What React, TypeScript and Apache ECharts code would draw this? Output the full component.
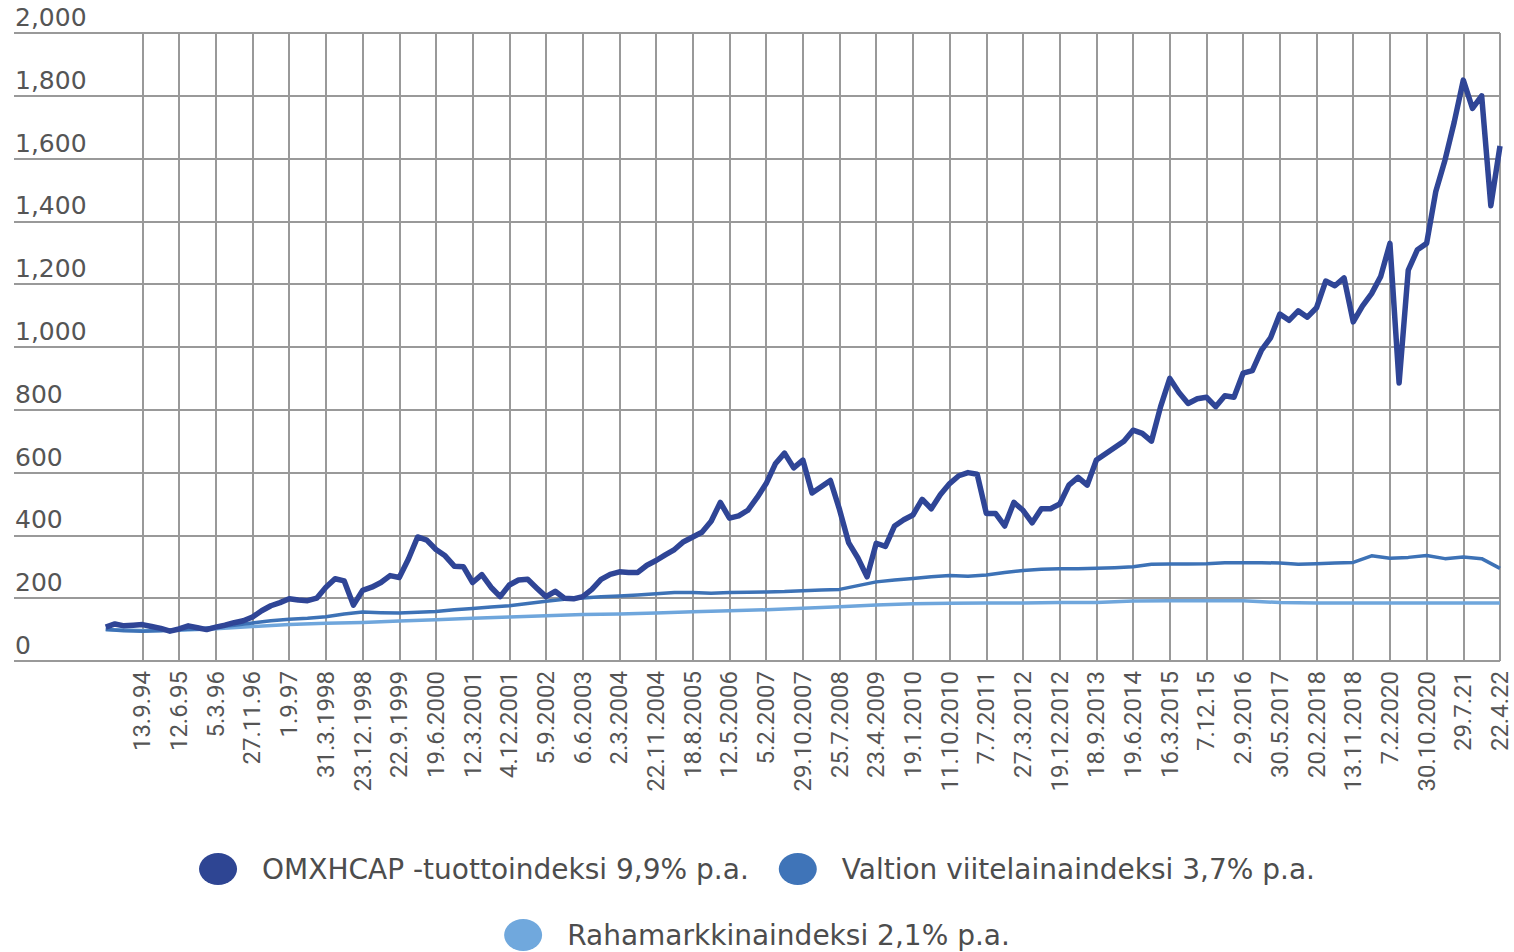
import React, { useEffect, useRef } from "react";
import * as echarts from "echarts";

const tickLabels = [
  "13.9.94", "12.6.95", "5.3.96", "27.11.96", "1.9.97", "31.3.1998", "23.12.1998",
  "22.9.1999", "19.6.2000", "12.3.2001", "4.12.2001", "5.9.2002", "6.6.2003",
  "2.3.2004", "22.11.2004", "18.8.2005", "12.5.2006", "5.2.2007", "29.10.2007",
  "25.7.2008", "23.4.2009", "19.1.2010", "11.10.2010", "7.7.2011", "27.3.2012",
  "19.12.2012", "18.9.2013", "19.6.2014", "16.3.2015", "7.12.15", "2.9.2016",
  "30.5.2017", "20.2.2018", "13.11.2018", "7.2.2020", "30.10.2020", "29.7.21", "22.4.22",
];

const seriesNames = [
  "OMXHCAP -tuottoindeksi 9,9% p.a.",
  "Valtion viitelainaindeksi 3,7% p.a.",
  "Rahamarkkinaindeksi 2,1% p.a.",
];

// OMXHCAP, four readings per tick interval
const omxhcap = [
  108, 118, 112, 114, 116, 110, 104, 95, 102, 112,
  106, 100, 108, 114, 122, 128, 140, 160, 176, 186,
  198, 194, 192, 200, 235, 262, 255, 178, 225, 235,
  250, 272, 266, 325, 395, 385, 355, 335, 302, 300,
  250, 275, 235, 205, 242, 258, 260, 232, 205, 222,
  200, 198, 205, 228, 260, 276, 284, 282, 282, 305,
  320, 338, 355, 380, 395, 410, 445, 505, 455, 462,
  480, 520, 565, 628, 662, 615, 640, 535, 555, 575,
  482, 376, 328, 268, 375, 365, 430, 450, 465, 515,
  485, 530, 565, 590, 600, 595, 470, 470, 430, 505,
  480, 440, 485, 485, 500, 560, 585, 560, 640, 660,
  680, 700, 735, 725, 700, 810, 900, 855, 820, 835,
  840, 810, 845, 840, 917, 925, 990, 1030, 1105, 1085,
  1115, 1095, 1125, 1210, 1195, 1220, 1080, 1130, 1170, 1225,
  1330, 885, 1245, 1310, 1330, 1495, 1595, 1715, 1850, 1760,
  1800, 1450, 1640,
];

// Valtion viitelainaindeksi, two readings per tick interval
const valtion = [
  100, 96, 95, 96, 100, 102, 108, 114, 121, 128,
  133, 136, 141, 150, 156, 154, 153, 155, 158, 163,
  167, 172, 176, 183, 190, 197, 201, 205, 207, 210,
  214, 218, 218, 216, 218, 219, 220, 221, 224, 226,
  228, 240, 252, 258, 263, 268, 272, 270, 274, 282,
  288, 292, 294, 294, 295, 297, 300, 308, 309, 309,
  310, 313, 313, 313, 312, 308, 310, 312, 314, 335,
  327, 330, 336, 326, 331, 326, 295,
];

// Rahamarkkinaindeksi, one reading per tick interval
const raha = [
  100, 97, 98, 103, 110, 116, 120, 123, 127, 131,
  136, 140, 144, 148, 150, 153, 157, 160, 163, 168,
  173, 178, 182, 184, 185, 185, 186, 186, 191, 192,
  192, 192, 186, 185, 185, 185, 185, 185, 185,
];

const STEPS = 4; // category slots per tick interval
const LEAD = 14; // empty slots before first tick (left part of grid)
const DATA_START = 10;
const N_CAT = LEAD + (tickLabels.length - 1) * STEPS + 1;

const isTick = (k: number) => k >= LEAD && (k - LEAD) % STEPS === 0;
const categories = Array.from({ length: N_CAT }, (_, k) =>
  isTick(k) ? tickLabels[(k - LEAD) / STEPS] : `_${k}`
);

function place(values: number[], stride: number) {
  const arr: (number | null)[] = new Array(N_CAT).fill(null);
  values.forEach((v, i) => {
    arr[DATA_START + i * stride] = v;
  });
  return arr;
}

const ELLIPSE = "path://M19,0 A19,16 0 1,1 19,32 A19,16 0 1,1 19,0 Z";
const GRID_COLOR = "#999999";

export default function App() {
  const ref = useRef<HTMLDivElement>(null);

  useEffect(() => {
    if (!ref.current) return;
    const chart = echarts.init(ref.current, null, { renderer: "svg" });
    const tickFn = (index: number) => isTick(index);
    const legendCommon = {
      left: "center",
      orient: "horizontal",
      padding: 0,
      itemWidth: 38,
      itemHeight: 32,
      itemGap: 30,
      icon: ELLIPSE,
      selectedMode: false,
      itemStyle: { borderWidth: 0 },
      textStyle: {
        fontFamily: "DejaVu Sans",
        fontSize: 28,
        lineHeight: 30,
        color: "#4d4d4d",
        padding: [0, 0, 0, 20],
      },
    };
    chart.setOption({
      animation: false,
      grid: { left: 14, right: 14, top: 33, bottom: 291, outerBoundsMode: "none" },
      xAxis: {
        type: "category",
        data: categories,
        boundaryGap: false,
        axisLine: { show: false },
        axisTick: { show: false },
        axisLabel: {
          interval: tickFn,
          rotate: 90,
          margin: 10,
          fontFamily: "Roboto",
          fontSize: 24,
          lineHeight: 20,
          color: "#555555",
        },
        splitLine: {
          show: true,
          interval: tickFn,
          lineStyle: { color: GRID_COLOR, width: 2 },
        },
      },
      yAxis: {
        type: "value",
        min: 0,
        max: 2000,
        interval: 200,
        axisLine: { show: false },
        axisTick: { show: false },
        axisLabel: {
          inside: true,
          margin: 1,
          align: "left",
          verticalAlign: "bottom",
          padding: [0, 0, 3, 0],
          fontFamily: "DejaVu Sans",
          fontSize: 25,
          color: "#555555",
        },
        splitLine: { show: true, lineStyle: { color: GRID_COLOR, width: 2 } },
      },
      legend: [
        { ...legendCommon, top: 853, data: [seriesNames[0], seriesNames[1]] },
        { ...legendCommon, top: 919, data: [seriesNames[2]] },
      ],
      series: [
        {
          name: seriesNames[0],
          type: "line",
          data: place(omxhcap, 1),
          showSymbol: false,
          symbol: "none",
          connectNulls: true,
          silent: true,
          z: 5,
          lineStyle: { width: 5.5, color: "#2f4596", join: "round" },
          itemStyle: { color: "#2e4593" },
        },
        {
          name: seriesNames[1],
          type: "line",
          data: place(valtion, 2),
          showSymbol: false,
          symbol: "none",
          connectNulls: true,
          silent: true,
          z: 4,
          lineStyle: { width: 3.5, color: "#3d72b6", join: "round" },
          itemStyle: { color: "#3f74b8" },
        },
        {
          name: seriesNames[2],
          type: "line",
          data: place(raha, 4),
          showSymbol: false,
          symbol: "none",
          connectNulls: true,
          silent: true,
          z: 3,
          lineStyle: { width: 3.5, color: "#6fa6dc", join: "round" },
          itemStyle: { color: "#70a8dd" },
        },
      ],
    });
    return () => chart.dispose();
  }, []);

  return (
    <div
      ref={ref}
      style={{ position: "absolute", left: 0, top: 0, width: 1514, height: 952 }}
    />
  );
}
